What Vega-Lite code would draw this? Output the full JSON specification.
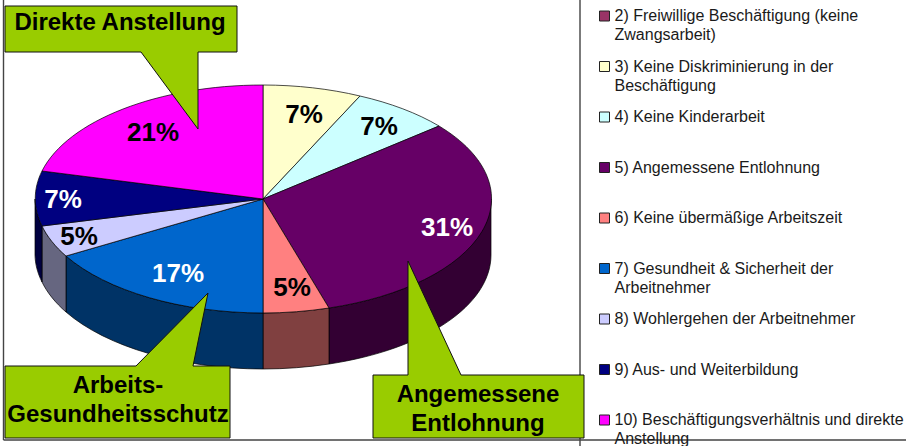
{
  "$schema": "https://vega.github.io/schema/vega-lite/v6.json",
  "width": 906,
  "height": 446,
  "padding": 0,
  "autosize": "none",
  "background": "white",
  "config": {"view": {"stroke": null}, "text": {"font": "Liberation Sans"}},
  "datasets": {
    "kriterien": [
      {"nr": 2, "kriterium": "2) Freiwillige Beschäftigung (keine\nZwangsarbeit)", "anteil": 0},
      {"nr": 3, "kriterium": "3) Keine Diskriminierung in der\nBeschäftigung", "anteil": 0.07},
      {"nr": 4, "kriterium": "4) Keine Kinderarbeit", "anteil": 0.07},
      {"nr": 5, "kriterium": "5) Angemessene Entlohnung", "anteil": 0.31},
      {"nr": 6, "kriterium": "6) Keine übermäßige Arbeitszeit", "anteil": 0.05},
      {"nr": 7, "kriterium": "7) Gesundheit & Sicherheit der\nArbeitnehmer", "anteil": 0.17},
      {"nr": 8, "kriterium": "8) Wohlergehen der Arbeitnehmer", "anteil": 0.05},
      {"nr": 9, "kriterium": "9) Aus- und Weiterbildung", "anteil": 0.07},
      {"nr": 10, "kriterium": "10) Beschäftigungsverhältnis und direkte\nAnstellung", "anteil": 0.21}
    ],
    "hinweise": [
      {"nr": 5, "hinweis": "Angemessene\nEntlohnung"},
      {"nr": 7, "hinweis": "Arbeits-\nGesundheitsschutz"},
      {"nr": 10, "hinweis": "Direkte Anstellung"}
    ]
  },
  "resolve": {"scale": {"x": "independent", "y": "independent", "color": "independent", "fill": "independent", "shape": "independent"}},
  "layer": [
    {
      "data": {"values": [{"element": "Rahmen"}]},
      "mark": {"type": "point", "shape": "M3.5,0 L3.5,440 M580,0 L580,446 M3.5,440 L906,440", "size": 4, "filled": false, "stroke": "#444444", "strokeWidth": 1.4, "opacity": 1},
      "encoding": {"x": {"value": 0}, "y": {"value": 0}}
    },
    {
      "data": {"name": "kriterien"},
      "transform": [{"filter": {"field": "nr", "range": [5, 9]}}],
      "mark": {"type": "point", "size": 4, "filled": true, "stroke": "#000000", "strokeWidth": 0.7, "opacity": 1},
      "encoding": {
        "x": {"field": "nr", "type": "quantitative", "axis": null, "scale": {"domain": [5, 9], "range": [263, 263], "zero": false, "nice": false}},
        "y": {"field": "nr", "type": "quantitative", "axis": null, "scale": {"domain": [5, 9], "range": [199, 199], "zero": false, "nice": false}},
        "shape": {"field": "nr", "type": "nominal", "legend": null, "scale": {"domain": [5, 6, 7, 8, 9], "range": [
          "M228,0 A228,114 0 0 1 66,109 L66,165 A228,114 0 0 0 228,56 Z",
          "M66,109 A228,114 0 0 1 0,114 L0,170 A228,114 0 0 0 66,165 Z",
          "M0,114 A228,114 0 0 1 -197,57 L-197,113 A228,114 0 0 0 0,170 Z",
          "M-197,57 A228,114 0 0 1 -221,27 L-221,83 A228,114 0 0 0 -197,113 Z",
          "M-221,27 A228,114 0 0 1 -228,0 L-228,56 A228,114 0 0 0 -221,83 Z"
        ]}},
        "fill": {"field": "nr", "type": "nominal", "legend": null, "scale": {"domain": [5, 6, 7, 8, 9], "range": ["#330033", "#804040", "#003366", "#666680", "#000040"]}}
      }
    },
    {
      "data": {"name": "kriterien"},
      "transform": [{"filter": "datum.anteil > 0"}],
      "mark": {"type": "point", "size": 4, "filled": true, "stroke": "#000000", "strokeWidth": 0.7, "opacity": 1},
      "encoding": {
        "x": {"field": "nr", "type": "quantitative", "axis": null, "scale": {"domain": [3, 10], "range": [263, 263], "zero": false, "nice": false}},
        "y": {"field": "nr", "type": "quantitative", "axis": null, "scale": {"domain": [3, 10], "range": [199, 199], "zero": false, "nice": false}},
        "shape": {"field": "nr", "type": "nominal", "legend": null, "scale": {"domain": [3, 4, 5, 6, 7, 8, 9, 10], "range": [
          "M0,0 L0,-114 A228,114 0 0 1 97,-103 Z",
          "M0,0 L97,-103 A228,114 0 0 1 176,-73 Z",
          "M0,0 L176,-73 A228,114 0 0 1 66,109 Z",
          "M0,0 L66,109 A228,114 0 0 1 0,114 Z",
          "M0,0 L0,114 A228,114 0 0 1 -197,57 Z",
          "M0,0 L-197,57 A228,114 0 0 1 -221,27 Z",
          "M0,0 L-221,27 A228,114 0 0 1 -221,-28 Z",
          "M0,0 L-221,-28 A228,114 0 0 1 0,-114 Z"
        ]}},
        "fill": {"field": "nr", "type": "nominal", "legend": null, "scale": {"domain": [3, 4, 5, 6, 7, 8, 9, 10], "range": ["#FFFFCC", "#CCFFFF", "#660066", "#FF8080", "#0066CC", "#CCCCFF", "#000080", "#FF00FF"]}}
      }
    },
    {
      "data": {"name": "kriterien"},
      "transform": [{"filter": "datum.anteil > 0"}],
      "mark": {"type": "text", "fontSize": 26, "fontWeight": "bold", "align": "center", "baseline": "middle"},
      "encoding": {
        "x": {"field": "nr", "type": "quantitative", "axis": null, "scale": {"domain": [3, 4, 5, 6, 7, 8, 9, 10], "range": [304, 379, 447, 292, 178, 79, 63, 153], "zero": false, "nice": false}},
        "y": {"field": "nr", "type": "quantitative", "axis": null, "scale": {"domain": [3, 4, 5, 6, 7, 8, 9, 10], "range": [115, 127, 228, 288, 274, 237, 200, 133], "zero": false, "nice": false}},
        "text": {"field": "anteil", "type": "quantitative", "format": ".0%"},
        "fill": {"field": "nr", "type": "nominal", "legend": null, "scale": {"domain": [3, 4, 5, 6, 7, 8, 9, 10], "range": ["#000000", "#000000", "#FFFFFF", "#000000", "#FFFFFF", "#000000", "#FFFFFF", "#000000"]}}
      }
    },
    {
      "data": {"name": "kriterien"},
      "mark": {"type": "point", "shape": "square", "size": 100, "filled": true, "stroke": "#222222", "strokeWidth": 1, "opacity": 1},
      "encoding": {
        "x": {"field": "nr", "type": "quantitative", "axis": null, "scale": {"domain": [2, 10], "range": [604.5, 604.5], "zero": false, "nice": false}},
        "y": {"field": "nr", "type": "quantitative", "axis": null, "scale": {"domain": [2, 10], "range": [16, 420], "zero": false, "nice": false}},
        "fill": {"field": "nr", "type": "nominal", "legend": null, "scale": {"domain": [2, 3, 4, 5, 6, 7, 8, 9, 10], "range": ["#993366", "#FFFFCC", "#CCFFFF", "#660066", "#FF8080", "#0066CC", "#CCCCFF", "#000080", "#FF00FF"]}}
      }
    },
    {
      "data": {"name": "kriterien"},
      "mark": {"type": "text", "fontSize": 16, "align": "left", "baseline": "alphabetic", "dy": 5, "lineBreak": "\n", "lineHeight": 19, "fill": "#1a1a1a"},
      "encoding": {
        "x": {"field": "nr", "type": "quantitative", "axis": null, "scale": {"domain": [2, 10], "range": [614.5, 614.5], "zero": false, "nice": false}},
        "y": {"field": "nr", "type": "quantitative", "axis": null, "scale": {"domain": [2, 10], "range": [16, 420], "zero": false, "nice": false}},
        "text": {"field": "kriterium", "type": "nominal"}
      }
    },
    {
      "data": {"name": "hinweise"},
      "mark": {"type": "point", "size": 4, "filled": true, "fill": "#99CC00", "stroke": "#111111", "strokeWidth": 1, "opacity": 1},
      "encoding": {
        "x": {"field": "nr", "type": "quantitative", "axis": null, "scale": {"domain": [5, 7, 10], "range": [408, 208, 198], "zero": false, "nice": false}},
        "y": {"field": "nr", "type": "quantitative", "axis": null, "scale": {"domain": [5, 7, 10], "range": [261, 293, 129], "zero": false, "nice": false}},
        "shape": {"field": "nr", "type": "nominal", "legend": null, "scale": {"domain": [5, 7, 10], "range": [
          "M0,0 L0,114 L-35,114 L-35,177 L176,177 L176,114 L53,114 Z",
          "M-72,73 L-203,73 L-203,145 L22,145 L22,73 L-15,73 L0,0 Z",
          "M-193,-123 L39,-123 L39,-77 L0,-77 L0,0 L-57,-77 L-193,-77 Z"
        ]}}
      }
    },
    {
      "data": {"name": "hinweise"},
      "mark": {"type": "text", "fontSize": 24, "fontWeight": "bold", "align": "center", "baseline": "middle", "lineBreak": "\n", "lineHeight": 29, "fill": "#000000"},
      "encoding": {
        "x": {"field": "nr", "type": "quantitative", "axis": null, "scale": {"domain": [5, 7, 10], "range": [478, 118, 120], "zero": false, "nice": false}},
        "y": {"field": "nr", "type": "quantitative", "axis": null, "scale": {"domain": [5, 7, 10], "range": [395, 386, 23], "zero": false, "nice": false}},
        "text": {"field": "hinweis", "type": "nominal"}
      }
    }
  ]
}
